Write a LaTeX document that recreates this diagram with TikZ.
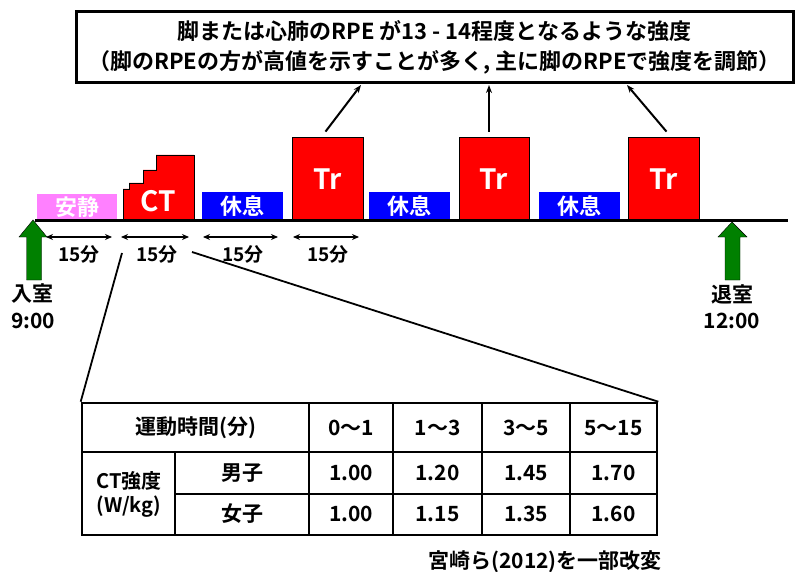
\documentclass[tikz,border=0pt]{standalone}
\usepackage{fontspec}
\setmainfont{Noto Sans CJK JP}[BoldFont={Noto Sans CJK JP Bold}]
\usetikzlibrary{arrows.meta,calc}
\definecolor{cpink}{HTML}{FF80FF}
\definecolor{cgreen}{HTML}{008000}
\begin{document}
\begin{tikzpicture}[x=1pt,y=-1pt,
  every node/.style={font=\bfseries, inner sep=0pt},
  redbox/.style={draw=black, line width=0.8pt, fill=red, text=white, font=\bfseries\fontsize{28}{28}\selectfont},
  bluebox/.style={fill=blue, text=white, font=\bfseries\fontsize{22}{22}\selectfont},
  pinkbox/.style={fill=cpink, text=white, font=\bfseries\fontsize{22}{22}\selectfont},
  upar/.style={line width=2pt, -{Stealth[length=8pt,width=6pt]}},
  dur/.style={line width=1.3pt, {Stealth[length=7pt,width=6pt]}-{Stealth[length=7pt,width=6pt]}},
  durlab/.style={font=\bfseries\fontsize{19}{19}\selectfont},
  tlab/.style={font=\bfseries\fontsize{21}{21}\selectfont},
  tcell/.style={font=\bfseries\fontsize{21}{21}\selectfont},
  tline/.style={line width=2.6pt},
  zline/.style={line width=1.8pt},
  garrow/.style={fill=cgreen}
]
\useasboundingbox (0,0) rectangle (795,572);

% top box
\node[draw, line width=3pt, minimum width=717pt, minimum height=71pt, align=center,
  font=\bfseries\fontsize{22}{30}\selectfont] (top) at (434.5,47.5)
  {脚または心肺のRPE が13 - 14程度となるような強度\\（脚のRPEの方が高値を示すことが多く, 主に脚のRPEで強度を調節）};

% boxes
\node[pinkbox, minimum width=80pt, minimum height=27pt] (rest0) at (77,207.5) {安静};
\draw[fill=red, line width=0.8pt] (123,221) -- (123,189) -- (129,189) -- (129,183) -- (143,183) -- (143,170) -- (156,170) -- (156,155) -- (194,155) -- (194,221) -- cycle;
\node[text=white, font=\bfseries\fontsize{28}{28}\selectfont] (ct) at (158,201) {CT};
\node[bluebox, minimum width=81pt, minimum height=29pt] (rest1) at (242.5,206.5) {休息};
\node[bluebox, minimum width=81pt, minimum height=29pt] (rest2) at (409.5,206.5) {休息};
\node[bluebox, minimum width=81pt, minimum height=29pt] (rest3) at (579.5,206.5) {休息};
\node[redbox, minimum width=71pt, minimum height=84pt] (tr1) at (327.5,179) {Tr};
\node[redbox, minimum width=70pt, minimum height=84pt] (tr2) at (494,179) {Tr};
\node[redbox, minimum width=71pt, minimum height=84pt] (tr3) at (663.5,179) {Tr};

% baseline
\coordinate (bl) at (35,221);
\coordinate (br) at (788,221);
\draw[line width=3pt] (bl) -- (br);

% arrows to top box
\coordinate (a1) at (361,85);
\coordinate (a2) at (489,85);
\coordinate (a3) at (627,85);
\draw[upar] ($(tr1.north)+(-2,-5)$) -- (a1);
\draw[upar] ($(tr2.north)+(-5,-5)$) -- (a2);
\draw[upar] ($(tr3.north)+(3,-5)$) -- (a3);

% durations
\coordinate (d1a) at (46,237); \coordinate (d1b) at (112,237);
\coordinate (d2a) at (121,237); \coordinate (d2b) at (189,237);
\coordinate (d3a) at (203,237); \coordinate (d3b) at (278,237);
\coordinate (d4a) at (293,237); \coordinate (d4b) at (359,237);
\draw[dur] (d1a) -- (d1b);
\draw[dur] (d2a) -- (d2b);
\draw[dur] (d3a) -- (d3b);
\draw[dur] (d4a) -- (d4b);
\node[durlab] (l1) at (79,254) {15分};
\node[durlab] (l2) at (157,254) {15分};
\node[durlab] (l3) at (243,254) {15分};
\node[durlab] (l4) at (328,254) {15分};

% green arrows
\draw[garrow] (33,220) -- (47,237) -- (41.5,237) -- (41.5,280) -- (26.5,280) -- (26.5,237) -- (19,237) -- cycle;
\draw[garrow] (732,222) -- (747,237) -- (740,237) -- (740,280) -- (725,280) -- (725,237) -- (718,237) -- cycle;
\node[tlab] (in1) at (33,294) {入室};
\node[tlab] (in2) at (33,321) {9:00};
\node[tlab] (out1) at (732,294) {退室};
\node[tlab] (out2) at (732,321) {12:00};

% table
\node[draw, tline, minimum width=575pt, minimum height=132pt] (tbl) at (369.5,469) {};
\draw[tline] (82,452) -- (657,452);
\draw[tline] (175,494) -- (657,494);
\draw[tline] (175,452) -- (175,535);
\draw[tline] (309,403) -- (309,535);
\draw[tline] (393,403) -- (393,535);
\draw[tline] (482,403) -- (482,535);
\draw[tline] (570,403) -- (570,535);

\node[tcell] (h0) at (195.5,428) {運動時間(分)};
\node[tcell] (h1) at (351,428) {0〜1};
\node[tcell] (h2) at (437.5,428) {1〜3};
\node[tcell] (h3) at (526,428) {3〜5};
\node[tcell] (h4) at (613.5,428) {5〜15};
\node[tcell, align=center, font=\bfseries\fontsize{20}{24}\selectfont] (ctl) at (129,494) {CT強度\\(W/kg)};
\node[tcell] (m0) at (242,473) {男子};
\node[tcell] (m1) at (351,473) {1.00};
\node[tcell] (m2) at (437.5,473) {1.20};
\node[tcell] (m3) at (526,473) {1.45};
\node[tcell] (m4) at (613.5,473) {1.70};
\node[tcell] (f0) at (242,514) {女子};
\node[tcell] (f1) at (351,514) {1.00};
\node[tcell] (f2) at (437.5,514) {1.15};
\node[tcell] (f3) at (526,514) {1.35};
\node[tcell] (f4) at (613.5,514) {1.60};

% zoom lines
\coordinate (z1) at (122,253);
\coordinate (z2) at (192,252);
\draw[zline] (z1) -- (tbl.north west);
\draw[zline] (z2) -- (tbl.north east);

% caption
\node[tcell, anchor=east] (cap) at (662,562) {宮崎ら(2012)を一部改変};
\end{tikzpicture}
\end{document}
